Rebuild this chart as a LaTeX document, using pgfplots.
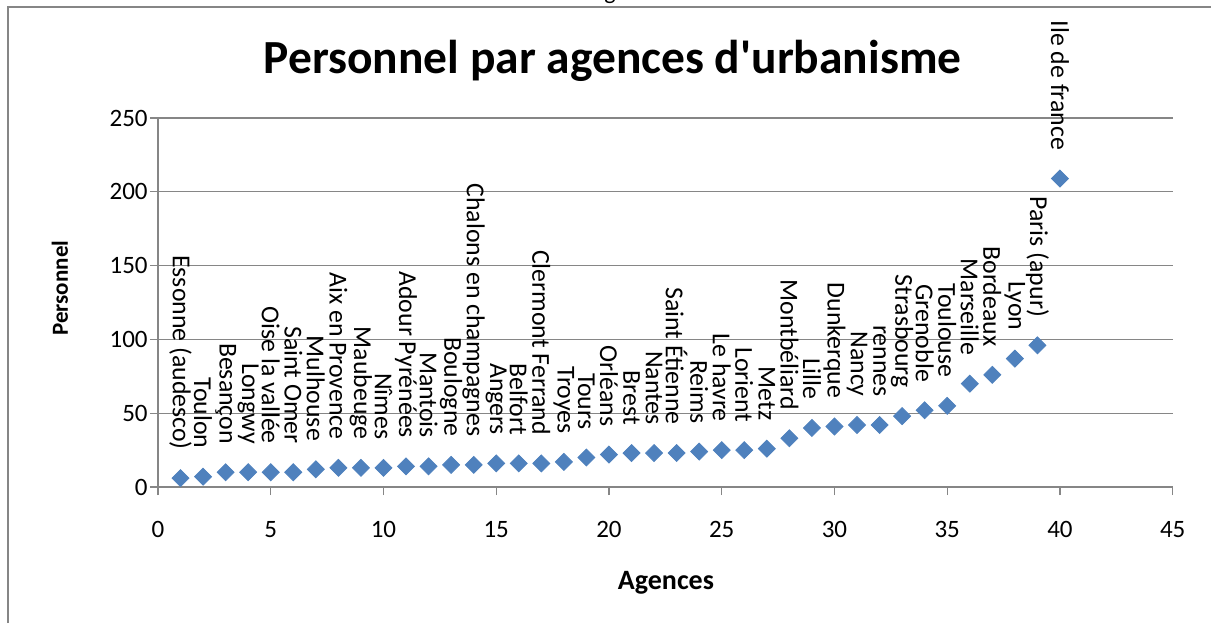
\documentclass[border=0pt]{standalone}
\usepackage{fontspec}
\setmainfont{Carlito}
\usepackage{pgfplots}
\pgfplotsset{compat=1.18}
\usepackage{pgfplotstable}
\definecolor{xlblue}{RGB}{79,129,189}
\definecolor{xlgray}{RGB}{134,134,134}

\pgfplotstableread[col sep=comma,row sep=\\]{
x,y,label\\
1,6,Essonne (audesco)\\
2,7,Toulon\\
3,10,Besançon\\
4,10,Longwy\\
5,10,Oise la vallée\\
6,10,Saint Omer\\
7,12,Mulhouse\\
8,13,Aix en Provence\\
9,13,Maubeuge\\
10,13,Nîmes\\
11,14,Adour Pyrénées\\
12,14,Mantois\\
13,15,Boulogne\\
14,15,Chalons en champagnes\\
15,16,Angers\\
16,16,Belfort\\
17,16,Clermont Ferrand\\
18,17,Troyes\\
19,20,Tours\\
20,22,Orléans\\
21,23,Brest\\
22,23,Nantes\\
23,23,Saint Étienne\\
24,24,Reims\\
25,25,Le havre\\
26,25,Lorient\\
27,26,Metz\\
28,33,Montbéliard\\
29,40,Lille\\
30,41,Dunkerque\\
31,42,Nancy\\
32,42,rennes\\
33,48,Strasbourg\\
34,52,Grenoble\\
35,55,Toulouse\\
36,70,Marseille\\
37,76,Bordeaux\\
38,87,Lyon\\
39,96,Paris (apur)\\
40,209,Ile de france\\
}\datatable

\begin{document}
\begin{tikzpicture}
\path[use as bounding box] (0,0) rectangle (605.5pt,311.5pt);
\draw[xlgray, line width=0.8pt] (4pt,0) -- (4pt,308pt) -- (605.5pt,308pt);
\node[anchor=base, inner sep=0pt, font=\fontsize{12}{14}\selectfont] at (305pt,312pt) {g};
\begin{axis}[
  at={(79pt,68pt)}, anchor=south west,
  scale only axis, width=507.35pt, height=184.5pt,
  xmin=0, xmax=45, ymin=0, ymax=250,
  xtick={0,5,...,45}, ytick={0,50,...,250},
  axis x line*=bottom, axis y line*=left,
  axis line style={xlgray, line width=0.6pt},
  tick align=outside, major tick length=4pt,
  tick style={xlgray, line width=0.6pt},
  ymajorgrids, grid style={xlgray, line width=0.6pt},
  tick label style={font=\fontsize{12.5}{14}\selectfont, black},
  xticklabel style={yshift=-9.5pt},
  yticklabel style={inner xsep=1pt},
  /pgf/number format/assume math mode=true,
  clip=false,
  title={Personnel par agences d\textquotesingle urbanisme},
  title style={at={(axis description cs:0.448,1.1165)}, anchor=base, yshift=-5pt,
    font=\bfseries\fontsize{23.75}{28}\selectfont},
  xlabel={Agences},
  xlabel style={at={(axis description cs:0.5006,-0.279)}, anchor=base,
    font=\bfseries\fontsize{14}{16}\selectfont},
  ylabel={Personnel},
  ylabel style={at={(axis description cs:-0.0887,0.539)}, anchor=base, rotate=0,
    font=\bfseries\fontsize{11.5}{13}\selectfont},
]
\addplot[only marks, mark=square*, mark size=3pt,
  mark options={rotate=45, fill=xlblue, draw=xlblue},
  point meta=explicit symbolic,
  nodes near coords,
  nodes near coords style={font=\fontsize{12.9}{14}\selectfont, black,
    inner sep=0pt, yshift=14pt, rotate=-90, anchor=east}]
  table[x=x, y=y, meta=label] {\datatable};
\end{axis}
\end{tikzpicture}
\end{document}
